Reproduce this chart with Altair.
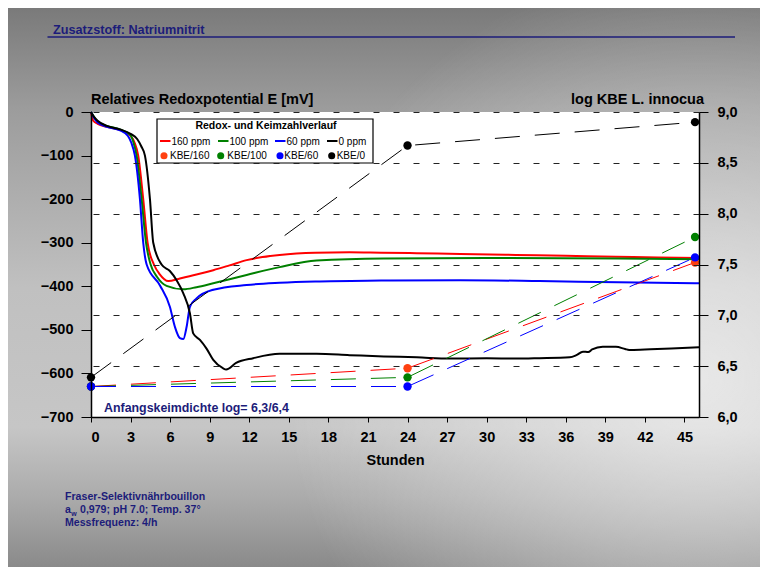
import altair as alt
import pandas as pd

# ---------------- data ----------------
series_names = ["160 ppm", "100 ppm", "60 ppm", "0 ppm"]
series_colors = ["#ff0000", "#008000", "#0000ff", "#000000"]

t_160 = [0, 0.17, 0.5, 1.2, 2.2, 3.0, 3.3, 3.58, 3.96, 4.29, 4.77, 5.2, 5.86, 6.74, 8.0, 9.27,
         10.5, 11.8, 13.0, 14.3, 17.0, 19.6, 22.0, 24.7, 28.0, 32.2, 36.0, 39.8, 43.0, 46.1]
mv_160 = [0, -20, -27, -34, -41, -55, -70, -100, -200, -300, -350, -372, -388, -382, -373, -363,
          -352, -340, -333, -328, -323, -322, -323, -324, -326, -328, -330, -332, -334, -335]

t_100 = [0, 0.2, 0.5, 1.2, 2.2, 3.0, 3.2, 3.46, 3.84, 4.17, 4.52, 5.0, 5.73, 7.0, 8.0, 9.27,
         11.8, 14.3, 17.1, 22.2, 30.0, 40.0, 46.1]
mv_100 = [0, -10, -22, -32, -40, -53, -68, -100, -200, -300, -350, -378, -399, -407, -402, -393,
          -374, -356, -341, -336, -335, -336, -338]

t_60 = [0, 0.2, 0.5, 1.2, 2.2, 2.8, 3.05, 3.33, 3.71, 3.96, 4.22, 5.23, 5.98, 6.36, 6.74, 7.0,
        7.25, 7.5, 8.0, 9.27, 11.8, 14.3, 17.0, 22.0, 28.0, 34.0, 40.0, 46.1]
mv_60 = [0, -12, -24, -34, -42, -55, -70, -100, -200, -300, -350, -398, -447, -493, -519, -521,
         -493, -447, -428, -408, -397, -392, -389, -387, -386, -388, -391, -393]

t_0 = [0, 0.2, 0.5, 1.2, 2.2, 3.0, 3.5, 3.8, 4.09, 4.47, 4.72, 5.35, 5.98, 6.49, 7.0, 7.5, 7.75,
       8.26, 8.76, 9.27, 10.0, 10.25, 11.0, 12.3, 14.3, 17.1, 19.6, 22.2, 24.7, 27.2, 30.0, 32.2,
       34.0, 36.3, 36.8, 37.3, 37.7, 38.0, 38.8, 39.8, 40.5, 40.8, 42.0, 44.0, 46.1]
mv_0 = [0, -10, -20, -32, -40, -50, -62, -78, -100, -200, -300, -350, -365, -386, -416, -462, -508,
        -523, -543, -569, -588, -591, -576, -565, -555, -555, -558, -561, -563, -566, -565, -566,
        -565, -563, -558, -550, -551, -545, -539, -539, -544, -546, -545, -543, -540]

kbe_names = ["KBE/160", "KBE/100", "KBE/60", "KBE/0"]
kbe_line_colors = ["#ff0000", "#008000", "#0000ff", "#000000"]
kbe_point_colors = ["#ff4010", "#008000", "#0000ff", "#000000"]
kbe_t = [0, 24, 45.8]
kbe_160 = [6.30, 6.48, 7.52]
kbe_100 = [6.30, 6.39, 7.77]
kbe_60 = [6.30, 6.30, 7.57]
kbe_0 = [6.39, 8.67, 8.90]

x_ticks = list(range(0, 46, 3))
y_left_ticks = [-700, -600, -500, -400, -300, -200, -100, 0]
y_right_ticks = [6.0, 6.5, 7.0, 7.5, 8.0, 8.5, 9.0]

header_text = "Zusatzstoff: Natriumnitrit"
left_title = "Relatives Redoxpotential E [mV]"
right_title = "log KBE L. innocua"
x_title = "Stunden"
legend_title = "Redox- und Keimzahlverlauf"
start_note = "Anfangskeimdichte log= 6,3/6,4"
foot_1 = "Fraser-Selektivnährbouillon"
foot_2a = "a"
foot_2w = "w"
foot_2b = "0,979; pH 7.0;  Temp. 37°"
foot_3 = "Messfrequenz: 4/h"

# ---------------- layout ----------------
FONT = "Liberation Sans, Arial, Helvetica, sans-serif"
NAVY = "#1c1c7a"
W, H = 608, 305
PAD = {"left": 83, "top": 104, "right": 61, "bottom": 150}
XDOM = [0, 46.1]

# ---------------- tables ----------------
rows = []
for name, col, ts, vs in zip(series_names, series_colors, [t_160, t_100, t_60, t_0],
                             [mv_160, mv_100, mv_60, mv_0]):
    for t, v in zip(ts, vs):
        rows.append({"series": name, "col": col, "t": t, "mv": v})
redox_df = pd.DataFrame(rows)

krows = []
for name, lc, pc, vals in zip(kbe_names, kbe_line_colors, kbe_point_colors,
                              [kbe_160, kbe_100, kbe_60, kbe_0]):
    for t, v in zip(kbe_t, vals):
        krows.append({"series": name, "lcol": lc, "pcol": pc, "t": t, "kbe": v})
kbe_df = pd.DataFrame(krows)
point_order = ["KBE/160", "KBE/100", "KBE/0", "KBE/60"]
kbe_pts_df = pd.concat([kbe_df[kbe_df.series == s] for s in point_order])

one = pd.DataFrame({"a": [0]})

# ---------------- background ----------------
bg = alt.Chart(one).mark_rect(
    fill=alt.LinearGradient(
        gradient="linear", x1=0, x2=0, y1=0, y2=1,
        stops=[alt.GradientStop(color="#7a7a7a", offset=0),
               alt.GradientStop(color="#9c9c9c", offset=0.18),
               alt.GradientStop(color="#c0c0c0", offset=0.5),
               alt.GradientStop(color="#c6c6c6", offset=0.75),
               alt.GradientStop(color="#aaaaaa", offset=0.88),
               alt.GradientStop(color="#8a8a8a", offset=1)])
).encode(x=alt.value(-PAD["left"]), x2=alt.value(W + PAD["right"]),
         y=alt.value(-PAD["top"]), y2=alt.value(H + PAD["bottom"]))

glow = alt.Chart(one).mark_rect(
    fill=alt.RadialGradient(
        gradient="radial", x1=0.92, y1=0.62, r1=0, x2=0.92, y2=0.62, r2=0.55,
        stops=[alt.GradientStop(color="rgba(255,255,255,0.6)", offset=0),
               alt.GradientStop(color="rgba(255,255,255,0)", offset=1)])
).encode(x=alt.value(-PAD["left"]), x2=alt.value(W + PAD["right"]),
         y=alt.value(-PAD["top"]), y2=alt.value(H + PAD["bottom"]))

plot_bg = alt.Chart(one).mark_rect(fill="white").encode(
    x=alt.value(0), x2=alt.value(W), y=alt.value(0), y2=alt.value(H))

# ---------------- data layers ----------------
xscale = alt.Scale(domain=XDOM, nice=False, zero=False)
xaxis = alt.Axis(values=x_ticks, title=x_title, grid=False, zindex=1,
                 domainColor="black", domainWidth=1.5, tickColor="black",
                 tickSize=5, labelPadding=8, labelFont=FONT, labelFontSize=14.5,
                 labelFontWeight="bold", labelColor="black",
                 titleFont=FONT, titleFontSize=14.5, titleFontWeight="bold",
                 titleColor="black", titlePadding=10)

redox = alt.Chart(redox_df).mark_line(strokeWidth=2, interpolate="monotone").encode(
    x=alt.X("t:Q", scale=xscale, axis=xaxis),
    y=alt.Y("mv:Q", scale=alt.Scale(domain=[-700, 0], nice=False),
            axis=alt.Axis(orient="left", values=y_left_ticks, title=None, grid=False, zindex=1,
                          domainColor="black", domainWidth=1.5, tickColor="black",
                          tickSize=10, labelPadding=8, labelFont=FONT, labelFontSize=14.5,
                          labelFontWeight="bold", labelColor="black")),
    color=alt.Color("col:N", scale=None),
    detail="series:N",
)

kbe_lines = alt.Chart(kbe_df).mark_line(strokeWidth=1, strokeDash=[25, 15]).encode(
    x=alt.X("t:Q", scale=xscale, axis=xaxis),
    y=alt.Y("kbe:Q", scale=alt.Scale(domain=[6, 9], nice=False, zero=False),
            axis=alt.Axis(orient="right", values=y_right_ticks, title=None, zindex=1,
                          labelExpr="replace(format(datum.value, '.1f'), '.', ',')",
                          grid=True, gridDash=[6, 14], gridColor="#222222", gridWidth=1,
                          domainColor="black", domainWidth=1.5, tickColor="black",
                          tickSize=9, labelPadding=9, labelFont=FONT, labelFontSize=14.5,
                          labelFontWeight="bold", labelColor="black")),
    color=alt.Color("lcol:N", scale=None),
    detail="series:N",
)
kbe_pts = alt.Chart(kbe_pts_df).mark_circle(size=70, opacity=1).encode(
    x=alt.X("t:Q", scale=xscale, axis=xaxis),
    y=alt.Y("kbe:Q"),
    color=alt.Color("pcol:N", scale=None),
)
kbe = alt.layer(kbe_lines, kbe_pts)

# ---------------- texts ----------------
def txt(s, x, y, size, color="black", weight="bold", align="left"):
    return alt.Chart(pd.DataFrame({"s": [s]})).mark_text(
        align=align, baseline="alphabetic", font=FONT, fontSize=size,
        fontWeight=weight, color=color).encode(
        x=alt.value(x), y=alt.value(y), text="s:N")

texts = [
    txt(header_text, -38, -78.5, 12.7, NAVY),
    txt(left_title, 0, -8, 14.5),
    txt(right_title, 613, -8, 14.5, align="right"),
    txt(start_note, 13, 299.5, 12.4, NAVY),
    txt(foot_1, -26, 388, 10.6, NAVY),
    txt(foot_2a, -26, 401, 10.6, NAVY),
    txt(foot_2w, -19.8, 403.5, 7, NAVY),
    txt(foot_2b, -11, 401, 10.6, NAVY),
    txt(foot_3, -26, 413.5, 10.6, NAVY),
]
underline = alt.Chart(one).mark_rule(color=NAVY, strokeWidth=1.5).encode(
    x=alt.value(-43.5), x2=alt.value(644), y=alt.value(-75))

# ---------------- legend ----------------
leg_line_x = [69, 127, 184, 236]
leg_pt_x = [73, 129.7, 189, 240.7]
leg_pt_tx = [79, 136.3, 193.3, 245.7]
leg_box = alt.Chart(one).mark_rect(fill="white", stroke="black", strokeWidth=1.2).encode(
    x=alt.value(66), x2=alt.value(282), y=alt.value(7), y2=alt.value(51))
leg_lines_df = pd.DataFrame({"label": series_names, "col": series_colors,
                             "x1": leg_line_x, "x2": [v + 10.5 for v in leg_line_x],
                             "tx": [v + 11.5 for v in leg_line_x]})
leg_pts_df = pd.DataFrame({"label": kbe_names, "col": kbe_point_colors,
                           "x1": leg_pt_x, "tx": leg_pt_tx})
leg_rules = alt.Chart(leg_lines_df).mark_rule(strokeWidth=2).encode(
    x=alt.X("x1:Q", scale=None), x2="x2:Q", y=alt.value(29),
    color=alt.Color("col:N", scale=None))
leg_rule_txt = alt.Chart(leg_lines_df).mark_text(
    align="left", baseline="alphabetic", font=FONT, fontSize=10, color="black").encode(
    x=alt.X("tx:Q", scale=None), y=alt.value(32.5), text="label:N")
leg_dots = alt.Chart(leg_pts_df).mark_circle(size=50, opacity=1).encode(
    x=alt.X("x1:Q", scale=None), y=alt.value(43.7), color=alt.Color("col:N", scale=None))
leg_dot_txt = alt.Chart(leg_pts_df).mark_text(
    align="left", baseline="alphabetic", font=FONT, fontSize=10, color="black").encode(
    x=alt.X("tx:Q", scale=None), y=alt.value(47.3), text="label:N")
leg_title = txt(legend_title, 175, 17, 10.5, align="center")

chart = alt.layer(
    bg, glow, plot_bg, underline, *texts,
    redox, kbe,
    leg_box, leg_title, leg_rules, leg_rule_txt, leg_dots, leg_dot_txt,
).resolve_scale(y="independent").properties(
    width=W, height=H,
    autosize=alt.AutoSizeParams(type="none"),
    padding=PAD,
).configure_view(stroke=None, fill=None)

chart.save("out.html", embed_options={"renderer": "svg", "actions": False})
